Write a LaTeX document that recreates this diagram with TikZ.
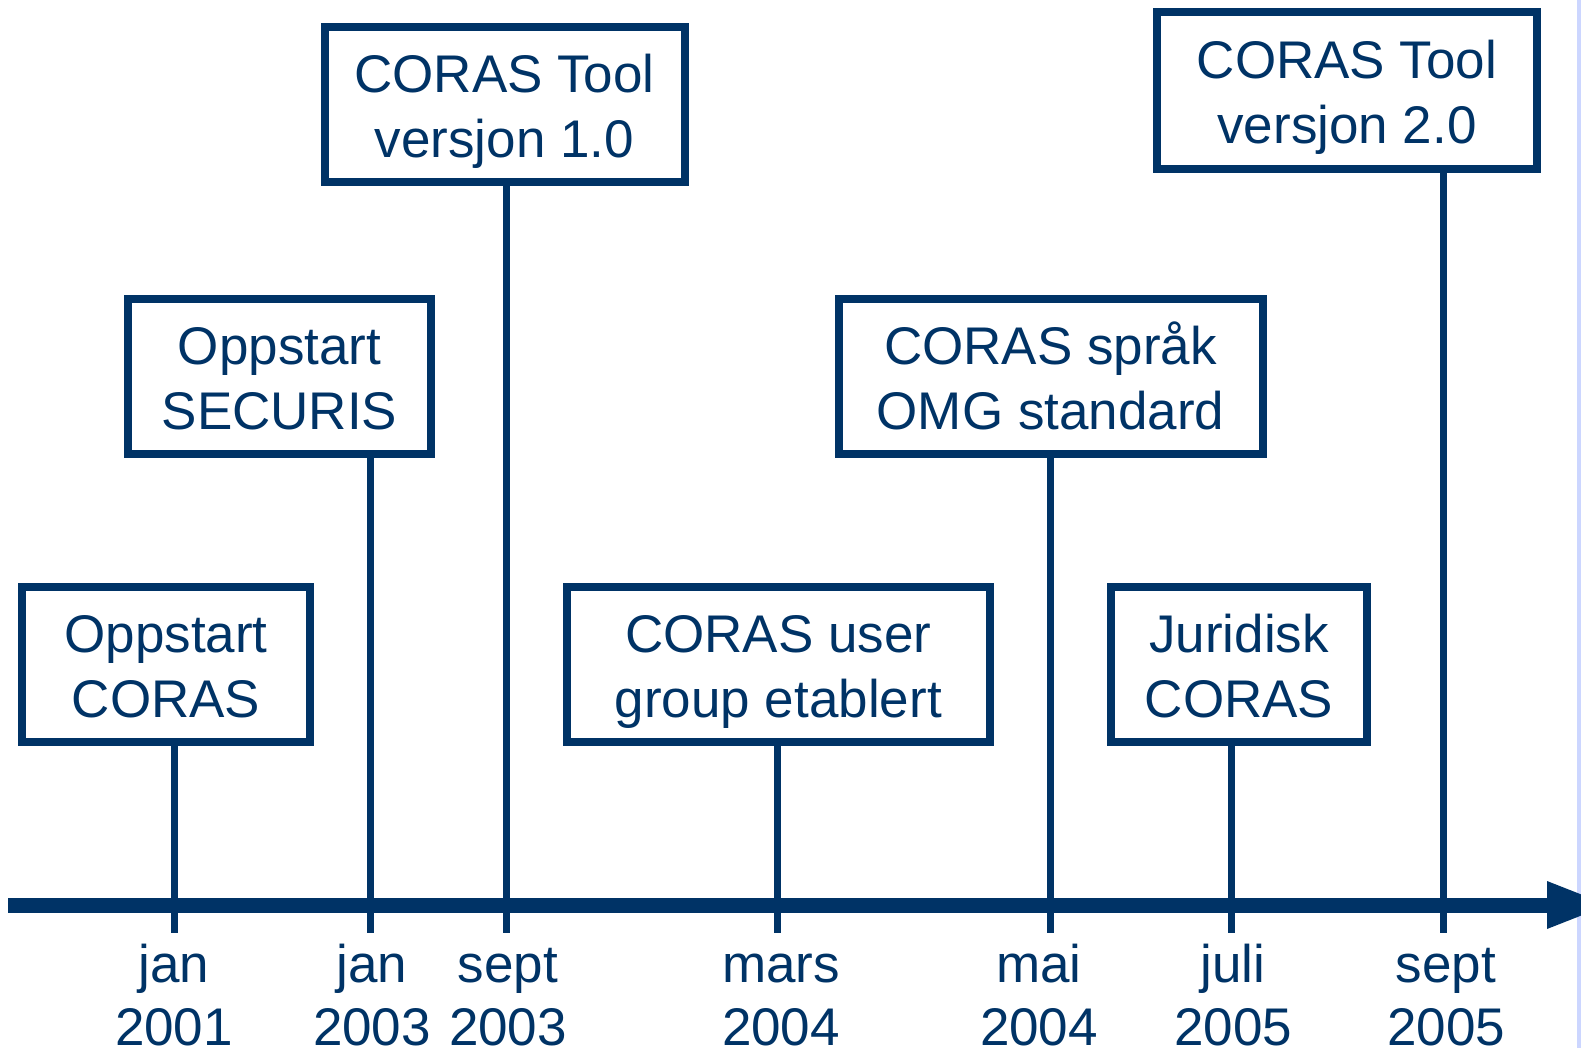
\documentclass[tikz,border=0pt]{standalone}
\usepackage{fontspec}
\setmainfont{Liberation Sans}
\definecolor{navy}{RGB}{0,51,102}
\definecolor{stripblue}{RGB}{204,214,255}
\newcommand\lstrut{\rule[-12pt]{0pt}{64pt}}
\newcommand\dstrut{\rule{0pt}{52pt}}
\begin{document}
\begin{tikzpicture}[x=1pt,y=-1pt,
  event/.style={draw=navy, line width=8pt, fill=white, inner sep=0pt, align=center, text=navy, font=\fontsize{53}{63}\selectfont},
  datelbl/.style={inner sep=0pt, align=center, text=navy, font=\fontsize{53}{63}\selectfont},
  stem/.style={draw=navy, line width=7pt},
  axisline/.style={draw=navy, line width=15pt}]
\useasboundingbox (0,0) rectangle (1581,1048);
\clip (0,0) rectangle (1581,1048);
\fill[stripblue] (1577,0) rectangle (1581,1048);

% axis
\coordinate (a0) at (8,905);
\coordinate (a1) at (1548,905);
\coordinate (h1) at (1547,881);
\coordinate (h2) at (1547,929);
\coordinate (tip) at (1608,905);
\draw[axisline] (a0) -- (a1);
\fill[navy] (h1) -- (tip) -- (h2) -- cycle;

% tick ends
\coordinate (t1) at (174,933);
\coordinate (t2) at (370,933);
\coordinate (t3) at (506,933);
\coordinate (t4) at (777,933);
\coordinate (t5) at (1050,933);
\coordinate (t6) at (1231,933);
\coordinate (t7) at (1443,933);

% events
\node[event, minimum width=288pt, minimum height=155pt] (b1) at (166,664.5) {\lstrut Oppstart\\\lstrut CORAS};
\node[event, minimum width=303pt, minimum height=154pt] (b2) at (279.5,376.5) {\lstrut Oppstart\\\lstrut SECURIS};
\node[event, minimum width=360pt, minimum height=155pt] (b3) at (504.5,105) {\lstrut CORAS Tool\\\lstrut versjon 1.0};
\node[event, minimum width=423pt, minimum height=155pt] (b4) at (778.3,664.5) {\lstrut CORAS user\\\lstrut group etablert};
\node[event, minimum width=424pt, minimum height=154pt] (b5) at (1050.5,376.5) {\lstrut CORAS språk\\\lstrut OMG standard};
\node[event, minimum width=256.5pt, minimum height=155pt] (b6) at (1239,664.5) {\lstrut Juridisk\\\lstrut CORAS};
\node[event, minimum width=380pt, minimum height=156.5pt] (b7) at (1347,90.7) {\lstrut CORAS Tool\\\lstrut versjon 2.0};

% stems
\draw[stem] (t1 |- b1.south) -- (t1);
\draw[stem] (t2 |- b2.south) -- (t2);
\draw[stem] (t3 |- b3.south) -- (t3);
\draw[stem] (t4 |- b4.south) -- (t4);
\draw[stem] (t5 |- b5.south) -- (t5);
\draw[stem] (t6 |- b6.south) -- (t6);
\draw[stem] (t7 |- b7.south) -- (t7);

% date labels
\node[datelbl] (l1) at (174,988.5) {\dstrut jan\\\dstrut 2001};
\node[datelbl] (l2) at (372,988.5) {\dstrut jan\\\dstrut 2003};
\node[datelbl] (l3) at (508,988.5) {\dstrut sept\\\dstrut 2003};
\node[datelbl] (l4) at (781,988.5) {\dstrut mars\\\dstrut 2004};
\node[datelbl] (l5) at (1039,988.5) {\dstrut mai\\\dstrut 2004};
\node[datelbl] (l6) at (1233,988.5) {\dstrut juli\\\dstrut 2005};
\node[datelbl] (l7) at (1446,988.5) {\dstrut sept\\\dstrut 2005};
\end{tikzpicture}
\end{document}
